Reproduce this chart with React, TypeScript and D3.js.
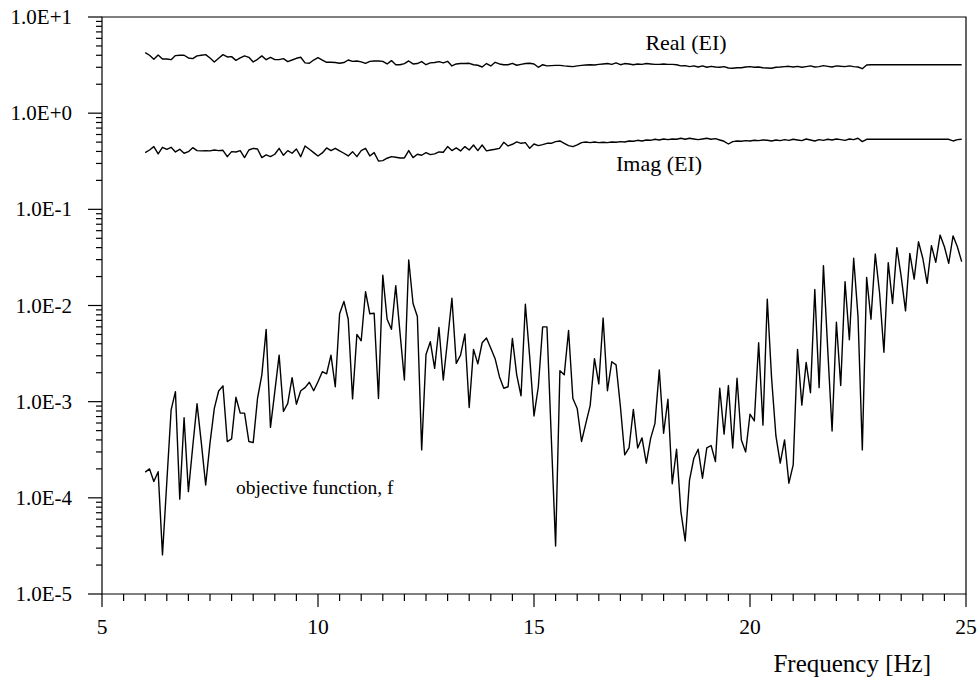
import React from "react";
import * as d3 from "d3";

// frequency grid: 6.0 .. 24.9 Hz, every 0.1 Hz
const freqStart = 6.0;
const freqStep = 0.1;

const realEI = [
  4.26, 4.0, 3.63, 4.03, 3.66, 3.66, 3.6, 3.97, 4.0, 4.0,
  3.75, 3.69, 3.94, 4.0, 4.06, 3.75, 3.41, 3.72, 4.06, 3.84,
  3.87, 3.54, 3.75, 3.94, 3.81, 3.41, 3.63, 3.94, 3.6, 3.81,
  3.6, 3.6, 3.69, 3.44, 3.57, 3.72, 3.81, 3.33, 3.3, 3.57,
  3.78, 3.57, 3.38, 3.38, 3.36, 3.3, 3.36, 3.57, 3.46, 3.49,
  3.41, 3.3, 3.46, 3.49, 3.49, 3.46, 3.25, 3.52, 3.19, 3.19,
  3.28, 3.49, 3.25, 3.28, 3.44, 3.19, 3.33, 3.36, 3.44, 3.33,
  3.46, 3.1, 3.25, 3.28, 3.28, 3.3, 3.19, 3.15, 3.02, 3.28,
  3.1, 3.38, 3.25, 3.19, 3.19, 3.3, 3.15, 3.22, 3.28, 3.3,
  3.25, 3.0, 3.19, 3.1, 3.12, 3.14, 3.14, 3.1, 3.07, 3.05,
  3.1, 3.14, 3.17, 3.19, 3.17, 3.22, 3.25, 3.28, 3.22, 3.33,
  3.19, 3.28, 3.25, 3.19, 3.25, 3.22, 3.28, 3.25, 3.22, 3.22,
  3.25, 3.22, 3.22, 3.19, 3.1, 3.12, 3.05, 3.1, 3.02, 3.1,
  3.0, 3.07, 3.02, 3.0, 3.05, 2.95, 2.93, 2.97, 2.97, 3.02,
  3.05, 3.0, 3.02, 2.97, 2.95, 2.93, 3.0, 3.02, 3.05, 3.07,
  3.02, 3.07, 3.0, 3.05, 3.1, 3.02, 3.05, 3.12, 3.07, 3.02,
  3.1, 3.07, 3.05, 3.1, 3.05, 3.02, 2.9, 3.17, 3.19, 3.19,
  3.19, 3.19, 3.19, 3.19, 3.19, 3.19, 3.19, 3.19, 3.19, 3.19,
  3.19, 3.19, 3.19, 3.19, 3.19, 3.19, 3.19, 3.19, 3.19, 3.19,
];

const imagEI = [
  0.389, 0.414, 0.449, 0.377, 0.442, 0.421, 0.442, 0.395, 0.421, 0.383,
  0.398, 0.438, 0.408, 0.405, 0.408, 0.405, 0.414, 0.408, 0.411, 0.353,
  0.398, 0.395, 0.408, 0.345, 0.414, 0.431, 0.424, 0.345, 0.368, 0.353,
  0.374, 0.431, 0.365, 0.408, 0.383, 0.424, 0.353, 0.456, 0.421, 0.389,
  0.359, 0.386, 0.435, 0.408, 0.431, 0.405, 0.383, 0.359, 0.398, 0.353,
  0.408, 0.431, 0.359, 0.389, 0.318, 0.321, 0.34, 0.353, 0.348, 0.342,
  0.342, 0.408, 0.345, 0.374, 0.365, 0.389, 0.371, 0.377, 0.395, 0.392,
  0.449, 0.408, 0.435, 0.405, 0.449, 0.414, 0.467, 0.408, 0.467, 0.405,
  0.414, 0.421, 0.431, 0.498, 0.456, 0.475, 0.502, 0.486, 0.494, 0.431,
  0.478, 0.46, 0.471, 0.486, 0.486, 0.506, 0.514, 0.486, 0.46, 0.449,
  0.467, 0.494, 0.502, 0.494, 0.502, 0.494, 0.498, 0.494, 0.502, 0.498,
  0.506, 0.502, 0.514, 0.51, 0.522, 0.514, 0.526, 0.522, 0.535, 0.526,
  0.539, 0.531, 0.539, 0.535, 0.548, 0.535, 0.548, 0.539, 0.531, 0.539,
  0.548, 0.535, 0.543, 0.526, 0.51, 0.478, 0.506, 0.514, 0.51, 0.518,
  0.514, 0.522, 0.518, 0.526, 0.522, 0.514, 0.526, 0.518, 0.531, 0.522,
  0.535, 0.526, 0.518, 0.539, 0.526, 0.514, 0.531, 0.522, 0.535, 0.526,
  0.539, 0.531, 0.522, 0.539, 0.531, 0.548, 0.506, 0.535, 0.535, 0.535,
  0.535, 0.535, 0.535, 0.535, 0.535, 0.535, 0.535, 0.535, 0.535, 0.535,
  0.535, 0.535, 0.535, 0.535, 0.535, 0.535, 0.535, 0.514, 0.531, 0.535,
];

const objective = [
  1.85e-4, 2.0e-4, 1.48e-4, 1.87e-4, 2.55e-5, 1.45e-4, 8.2e-4, 1.27e-3, 9.7e-5, 6.8e-4,
  1.16e-4, 3.4e-4, 9.5e-4, 3.7e-4, 1.36e-4, 3.7e-4, 8.5e-4, 1.29e-3, 1.46e-3, 3.85e-4,
  4.1e-4, 1.11e-3, 7.6e-4, 7.6e-4, 3.85e-4, 3.75e-4, 1.08e-3, 1.9e-3, 5.65e-3, 5.4e-4,
  1.27e-3, 3.05e-3, 7.9e-4, 9.6e-4, 1.78e-3, 9.4e-4, 1.3e-3, 1.4e-3, 1.59e-3, 1.3e-3,
  1.61e-3, 2.05e-3, 1.95e-3, 3.05e-3, 1.43e-3, 8.2e-3, 1.1e-2, 7.2e-3, 1.07e-3, 5.0e-3,
  4.3e-3, 1.39e-2, 8.2e-3, 8.3e-3, 1.08e-3, 2.07e-2, 7.2e-3, 5.65e-3, 1.61e-2, 5.1e-3,
  1.68e-3, 2.97e-2, 1.05e-2, 7.7e-3, 3.15e-4, 3.1e-3, 4.2e-3, 2.22e-3, 5.9e-3, 1.68e-3,
  4.4e-3, 1.19e-2, 2.5e-3, 3.05e-3, 5.05e-3, 8.7e-4, 3.5e-3, 2.47e-3, 4.1e-3, 4.6e-3,
  3.6e-3, 2.8e-3, 1.82e-3, 1.38e-3, 1.43e-3, 4.55e-3, 1.9e-3, 1.15e-3, 1.03e-2, 2.94e-3,
  7.1e-4, 1.43e-3, 6.0e-3, 6.0e-3, 4.3e-4, 3.16e-5, 2.1e-3, 1.9e-3, 5.5e-3, 1.08e-3,
  8.5e-4, 3.85e-4, 5.95e-4, 9.1e-4, 2.8e-3, 1.53e-3, 7.4e-3, 1.3e-3, 2.6e-3, 2.41e-3,
  8.9e-4, 2.8e-4, 3.3e-4, 8.3e-4, 3.3e-4, 4.2e-4, 2.3e-4, 4.15e-4, 5.95e-4, 2.14e-3,
  4.7e-4, 1.06e-3, 1.4e-4, 3.2e-4, 7.2e-5, 3.56e-5, 1.53e-4, 2.58e-4, 3.2e-4, 1.6e-4,
  3.3e-4, 3.5e-4, 2.38e-4, 1.38e-3, 4.6e-4, 1.47e-3, 3.3e-4, 1.75e-3, 4.0e-4, 3.0e-4,
  7.4e-4, 6.3e-4, 4.1e-3, 5.7e-4, 1.16e-2, 1.75e-3, 4.4e-4, 2.3e-4, 4.0e-4, 1.42e-4,
  2.2e-4, 3.5e-3, 9.2e-4, 2.56e-3, 1.24e-3, 1.47e-2, 1.4e-3, 2.6e-2, 3.45e-3, 4.95e-4,
  6.7e-3, 1.47e-3, 1.77e-2, 4.4e-3, 3.1e-2, 7.7e-3, 3.15e-4, 1.96e-2, 7.2e-3, 3.43e-2,
  1.34e-2, 3.26e-3, 2.79e-2, 1.05e-2, 3.99e-2, 2.0e-2, 8.8e-3, 3.48e-2, 1.88e-2, 4.6e-2,
  3.1e-2, 1.7e-2, 4.19e-2, 2.81e-2, 5.4e-2, 4.08e-2, 2.74e-2, 5.3e-2, 4.08e-2, 2.86e-2,
];

const xMajorTicks = [5, 10, 15, 20, 25];
const yExponents = [1, 0, -1, -2, -3, -4, -5];

const width = 980;
const height = 683;
const plot = { left: 102, right: 966, top: 17, bottom: 594 };

const x = d3.scaleLinear().domain([5, 25]).range([plot.left, plot.right]);
const y = d3.scaleLog().domain([1e-5, 10]).range([plot.bottom, plot.top]);

const line = d3.line<number>()
  .x((_, i) => x(freqStart + i * freqStep))
  .y((v) => y(v));

const expLabel = (e: number) => `1.0E${e >= 0 ? "+" : "-"}${Math.abs(e)}`;

const serif = (size: number) => ({ fontFamily: '"Liberation Serif"', fontSize: size });

export default function App() {
  const yMinor: number[] = [];
  yExponents.slice(0, -1).forEach((e) => {
    for (let m = 2; m <= 9; m++) yMinor.push(m * Math.pow(10, e - 1));
  });
  const xMinor = d3.range(5.5, 25, 0.5).filter((v) => v % 5 !== 0);

  const stroke = { stroke: "#000", strokeWidth: 1.2 };

  return (
    <svg width={width} height={height} style={{ position: "absolute", left: 0, top: 0 }}>
      <rect width={width} height={height} fill="#fff" />

      {/* frame */}
      <path
        d={`M${plot.left},${plot.bottom}V${plot.top}H${plot.right}V${plot.bottom}Z`}
        fill="none"
        {...stroke}
      />

      {/* y ticks */}
      {yMinor.map((v) => (
        <line key={`ym${v}`} x1={plot.left - 6} x2={plot.left} y1={y(v)} y2={y(v)} {...stroke} />
      ))}
      {yExponents.map((e) => (
        <g key={`y${e}`}>
          <line x1={plot.left - 14} x2={plot.left} y1={y(Math.pow(10, e))} y2={y(Math.pow(10, e))} {...stroke} />
          <text x={72} y={y(Math.pow(10, e)) + 7} textAnchor="end" fill="#000" style={serif(21)}>
            {expLabel(e)}
          </text>
        </g>
      ))}

      {/* x ticks */}
      {xMinor.map((v) => (
        <line key={`xm${v}`} x1={x(v)} x2={x(v)} y1={plot.bottom} y2={plot.bottom + 7} {...stroke} />
      ))}
      {xMajorTicks.map((v) => (
        <g key={`x${v}`}>
          <line x1={x(v)} x2={x(v)} y1={plot.bottom} y2={plot.bottom + 13} {...stroke} />
          <text x={x(v)} y={634} textAnchor="middle" fill="#000" style={serif(21.5)}>
            {v}
          </text>
        </g>
      ))}

      {/* series */}
      {[realEI, imagEI, objective].map((s, i) => (
        <path key={i} d={line(s) ?? ""} fill="none" stroke="#000" strokeWidth={1.4} strokeLinejoin="round" />
      ))}

      <text x={686} y={50} textAnchor="middle" style={serif(22)}>Real (EI)</text>
      <text x={659} y={171} textAnchor="middle" style={serif(22)}>Imag (EI)</text>
      <text x={236} y={494} style={serif(19.5)}>objective function, f</text>
      <text x={931} y={672} textAnchor="end" style={serif(25)}>Frequency [Hz]</text>
    </svg>
  );
}
